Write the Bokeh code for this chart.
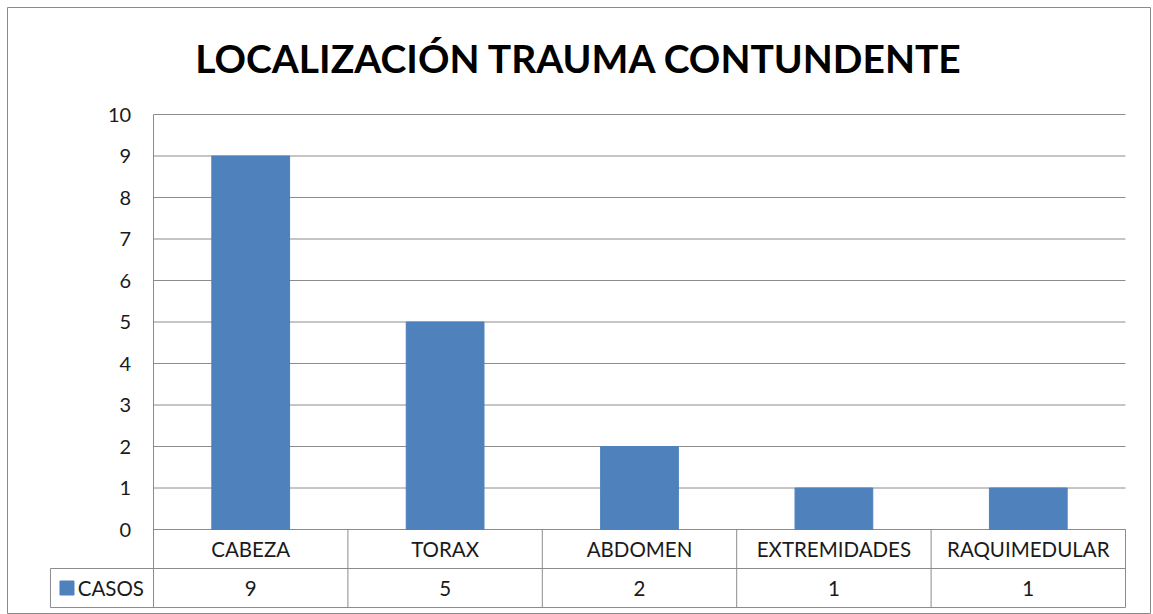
from bokeh.plotting import figure
from bokeh.models import Range1d
from bokeh.core.properties import value
from bokeh.embed import file_html
from bokeh.resources import INLINE

categories = ["CABEZA", "TORAX", "ABDOMEN", "EXTREMIDADES", "RAQUIMEDULAR"]
casos = [9, 5, 2, 1, 1]
y_ticks = [0, 1, 2, 3, 4, 5, 6, 7, 8, 9, 10]
series_name = "CASOS"
title_text = "LOCALIZACIÓN TRAUMA CONTUNDENTE"

FONT = "Lato"
BAR = "#4F81BD"
GRID = "#8c8c8c"
TXT = "#1a1a1a"

FW, FH = 1143, 607     # frame (chart area) size
PX_X = 194.4           # pixels per category
PX_Y = 41.5            # pixels per unit of value
X0_PX, Y0_PX = 146, 522   # frame position of data origin

n = len(categories)
centers = [i + 0.5 for i in range(n)]
ymax = y_ticks[-1]
row1 = -0.94   # category row bottom
row2 = -1.88   # value row bottom
leg_left = -0.53

p = figure(width=FW + 8, height=FH + 7, title=None,
           x_range=Range1d(-X0_PX / PX_X, (FW - X0_PX) / PX_X),
           y_range=Range1d(-(FH - Y0_PX) / PX_Y, Y0_PX / PX_Y),
           x_axis_type=None, y_axis_type=None,
           output_backend="svg", toolbar_location=None,
           min_border_left=7, min_border_right=1,
           min_border_top=7, min_border_bottom=0)
p.grid.visible = False
p.outline_line_color = "#8a8a8a"
p.outline_line_width = 1
p.background_fill_color = "white"
p.border_fill_color = "white"

# title
p.text(x=[2.19], y=[11.35], text=[title_text], text_align="center", text_baseline="alphabetic",
       text_font=value(FONT), text_font_style="bold", text_font_size="39px", text_color="black")

# horizontal gridlines (tick values) incl. the y=0 table top line
p.segment(x0=[0] * len(y_ticks), x1=[n] * len(y_ticks), y0=y_ticks, y1=y_ticks,
          line_color=GRID, line_width=1)
# value axis line / table left border
p.segment(x0=[0], x1=[0], y0=[ymax], y1=[row2], line_color=GRID, line_width=1)
# table column separators
seps = [i + 1 for i in range(n)]
p.segment(x0=seps, x1=seps, y0=[0] * n, y1=[row2] * n, line_color=GRID, line_width=1)
# table row lines
p.segment(x0=[leg_left, leg_left], x1=[n, n], y0=[row1, row2], y1=[row1, row2],
          line_color=GRID, line_width=1)
# legend cell left border
p.segment(x0=[leg_left], x1=[leg_left], y0=[row1], y1=[row2], line_color=GRID, line_width=1)

# bars
p.vbar(x=centers, top=casos, bottom=0, width=0.4, fill_color=BAR, line_color=BAR)

# y tick labels
p.text(x=[-0.115] * len(y_ticks), y=y_ticks, text=[str(t) for t in y_ticks],
       text_align="right", text_baseline="middle",
       text_font=value(FONT), text_font_size="20px", text_color=TXT)

# category labels
p.text(x=centers, y=[row1 / 2] * n, text=categories,
       text_align="center", text_baseline="middle",
       text_font=value(FONT), text_font_size="20.5px", text_color=TXT)

# values row
mid2 = (row1 + row2) / 2
p.text(x=centers, y=[mid2] * n, text=[str(v) for v in casos],
       text_align="center", text_baseline="middle",
       text_font=value(FONT), text_font_size="20.5px", text_color=TXT)

# legend key + series name
p.scatter(x=[-0.445], y=[mid2], marker="square", size=14, fill_color=BAR, line_color=BAR)
p.text(x=[-0.39], y=[mid2], text=[series_name], text_align="left", text_baseline="middle",
       text_font=value(FONT), text_font_size="20.5px", text_color=TXT)

open("out.html", "w").write(file_html(p, INLINE))
